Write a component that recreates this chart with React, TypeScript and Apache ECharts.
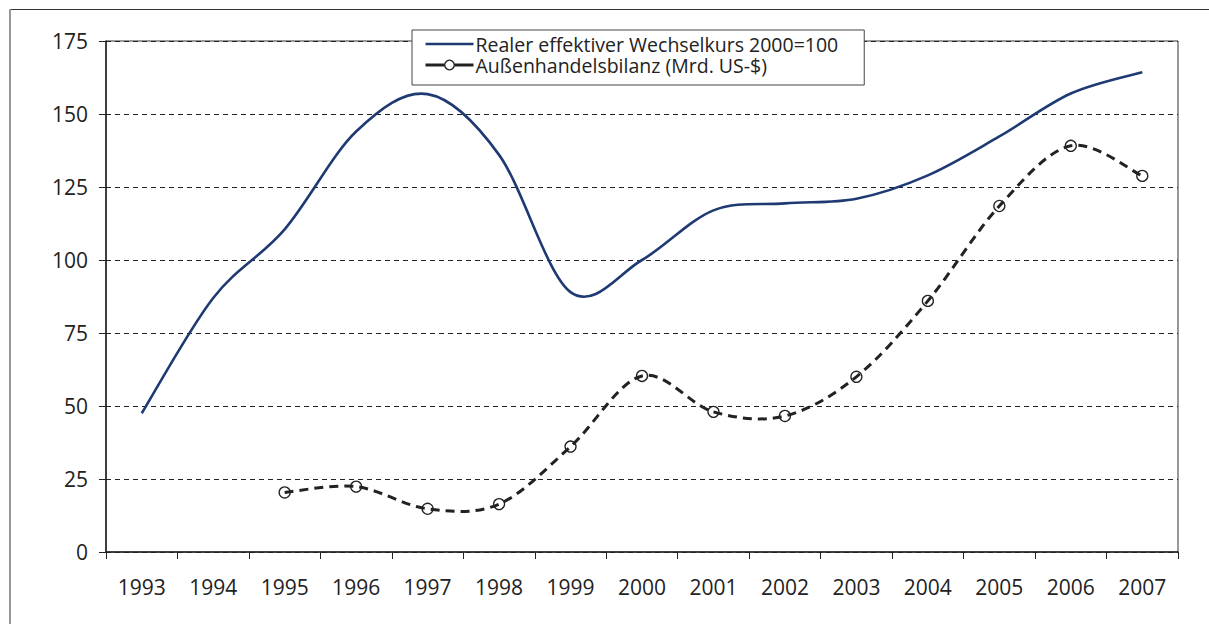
import React, { useEffect, useRef } from "react";
import * as echarts from "echarts";

const years = ["1993", "1994", "1995", "1996", "1997", "1998", "1999", "2000", "2001", "2002", "2003", "2004", "2005", "2006", "2007"];
const wechselkurs = [47.5, 87, 110.5, 144, 156.8, 136, 89, 100, 117, 119.4, 121, 129, 142.3, 157, 164.3];
const bilanz = [null, null, 20.4, 22.4, 14.8, 16.4, 36.1, 60.3, 48, 46.6, 60, 86, 118.5, 139.1, 128.8];
const seriesNames = ["Realer effektiver Wechselkurs 2000=100", "Außenhandelsbilanz (Mrd. US-$)"];
const yMin = 0;
const yMax = 175;
const yStep = 25;

const FONT = "'Open Sans', sans-serif";

type Val = number | null;

function pairs(values: Val[]) {
  const out: number[][] = [];
  values.forEach((v, i) => {
    if (v !== null) out.push([i, v]);
  });
  return out;
}

// Excel-like smoothed line (Catmull-Rom bezier) through the points, placed with the axes' scales
function smoothRenderer(values: Val[], stroke: string, lineWidth: number, lineDash: number[] | null) {
  const pts = pairs(values);
  return (params: any, api: any) => {
    if (params.dataIndex !== 0) return null;
    const c = pts.map((p) => api.coord(p));
    let d = `M${c[0][0]} ${c[0][1]}`;
    for (let i = 0; i < c.length - 1; i++) {
      const p0 = c[Math.max(0, i - 1)];
      const p1 = c[i];
      const p2 = c[i + 1];
      const p3 = c[Math.min(c.length - 1, i + 2)];
      const k = 6;
      const cp1x = p1[0] + (p2[0] - p0[0]) / k;
      const cp1y = p1[1] + (p2[1] - p0[1]) / k;
      const cp2x = p2[0] - (p3[0] - p1[0]) / k;
      const cp2y = p2[1] - (p3[1] - p1[1]) / k;
      d += ` C${cp1x} ${cp1y} ${cp2x} ${cp2y} ${p2[0]} ${p2[1]}`;
    }
    return {
      type: "path",
      shape: { pathData: d },
      style: { fill: "none", stroke, lineWidth, lineDash: lineDash || undefined, lineCap: "butt", lineJoin: "round" },
      silent: true,
    };
  };
}

export default function App() {
  const ref = useRef<HTMLDivElement>(null);
  useEffect(() => {
    if (!ref.current) return;
    const chart = echarts.init(ref.current, null, { renderer: "svg" });
    chart.setOption({
      animation: false,
      backgroundColor: "#fff",
      textStyle: { fontFamily: FONT },
      grid: {
        left: 106,
        top: 41,
        right: 31,
        bottom: 72,
        show: true,
        borderColor: "#333",
        borderWidth: 1,
        backgroundColor: "transparent",
      },
      graphic: [
        { type: "line", shape: { x1: 10, y1: 9.5, x2: 1209, y2: 9.5 }, style: { stroke: "#333", lineWidth: 1 }, z: 100 },
        { type: "line", shape: { x1: 10, y1: 9, x2: 10, y2: 624 }, style: { stroke: "#999", lineWidth: 2 }, z: 100 },
      ],
      legend: {
        orient: "vertical",
        left: 412,
        top: 30,
        padding: [4, 26, 10, 12],
        itemGap: 1,
        itemWidth: 48,
        itemHeight: 12,
        backgroundColor: "#fff",
        borderColor: "#444",
        borderWidth: 1,
        textStyle: { fontSize: 19.5, lineHeight: 19, color: "#222", fontFamily: FONT, padding: [0, 0, 0, -3] },
        data: [
          {
            name: seriesNames[0],
            itemStyle: { opacity: 0 },
            lineStyle: { color: "#1f3a73", width: 2.6, type: "solid", opacity: 1 },
          },
          {
            name: seriesNames[1],
            lineStyle: { color: "#222", type: "solid", width: 3, opacity: 1 },
            itemStyle: { color: "#fff", borderColor: "#222", borderWidth: 1.3, opacity: 1 },
          },
        ],
      },
      xAxis: {
        type: "category",
        data: years,
        boundaryGap: true,
        axisLine: { lineStyle: { color: "#222", width: 1.5 } },
        axisTick: { show: true, length: 7, alignWithLabel: false, lineStyle: { color: "#222" } },
        axisLabel: { fontSize: 21, color: "#222", margin: 24, fontFamily: FONT },
      },
      yAxis: {
        type: "value",
        min: yMin,
        max: yMax,
        interval: yStep,
        axisLine: { show: true, lineStyle: { color: "#222", width: 1.5 } },
        axisTick: { show: true, length: 7, lineStyle: { color: "#222" } },
        axisLabel: { fontSize: 21, color: "#222", margin: 18, fontFamily: FONT },
        splitLine: { show: true, lineStyle: { color: "#222", type: [5, 4], width: 1 } },
      },
      series: [
        {
          name: "curve-wechselkurs",
          type: "custom",
          coordinateSystem: "cartesian2d",
          data: pairs(wechselkurs),
          encode: { x: 0, y: 1 },
          renderItem: smoothRenderer(wechselkurs, "#1f3a73", 2.6, null),
          z: 3,
        },
        {
          name: "curve-bilanz",
          type: "custom",
          coordinateSystem: "cartesian2d",
          data: pairs(bilanz),
          encode: { x: 0, y: 1 },
          renderItem: smoothRenderer(bilanz, "#222", 3, [9, 6]),
          z: 4,
        },
        {
          name: seriesNames[0],
          type: "line",
          data: wechselkurs,
          symbol: "none",
          lineStyle: { color: "#1f3a73", width: 2.6, opacity: 0 },
          itemStyle: { color: "#1f3a73" },
          z: 5,
        },
        {
          name: seriesNames[1],
          type: "line",
          data: bilanz,
          symbol: "circle",
          symbolSize: 11,
          showSymbol: true,
          lineStyle: { color: "#222", width: 3, opacity: 0 },
          itemStyle: { color: "transparent", borderColor: "#222", borderWidth: 1.3 },
          z: 6,
        },
      ],
    });
    return () => chart.dispose();
  }, []);
  return <div ref={ref} style={{ position: "fixed", left: 0, top: 0, width: 1209, height: 624 }} />;
}
